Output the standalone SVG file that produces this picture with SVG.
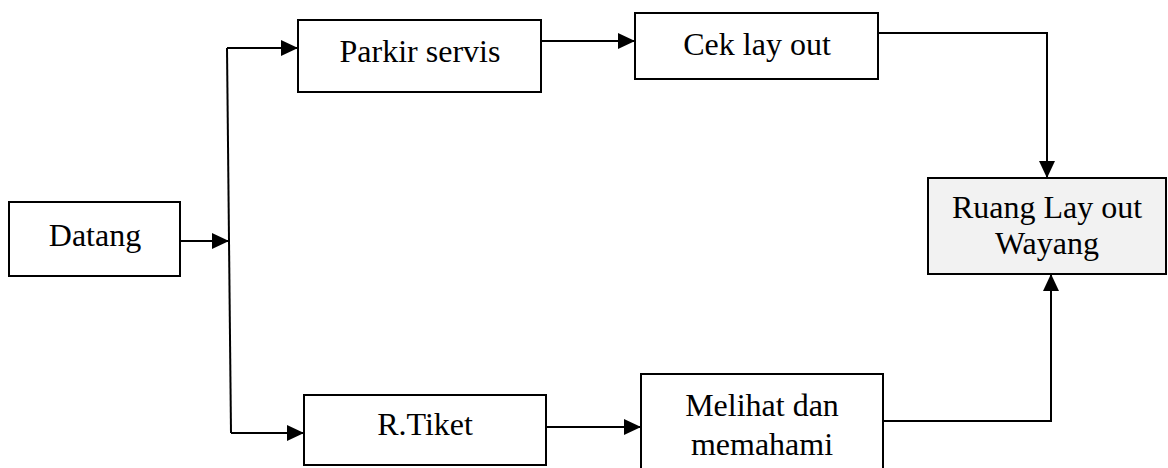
<svg xmlns="http://www.w3.org/2000/svg" width="1168" height="468" viewBox="0 0 1168 468">
  <style>
    .box { fill: #ffffff; stroke: #000000; stroke-width: 2; }
    .box.shaded { fill: #f2f2f2; }
    .label { font-family: "Liberation Serif", "Times New Roman", serif; font-size: 32px; fill: #000000; text-anchor: middle; }
    .link { fill: none; stroke: #000000; stroke-width: 2; marker-end: url(#arrow); }
    .plain { fill: none; stroke: #000000; stroke-width: 2; }
  </style>
  <defs>
    <marker id="arrow" markerUnits="userSpaceOnUse" markerWidth="17" markerHeight="16" refX="17" refY="8" orient="auto">
      <path d="M0,0 L17,8 L0,16 Z" fill="#000000"/>
    </marker>
  </defs>

  <rect width="1168" height="468" fill="#ffffff"/>

  <!-- connectors -->
  <g id="connectors">
    <path class="link" d="M180,241 L229,241"/>
    <path class="plain" d="M227,48 L231,433"/>
    <path class="link" d="M227,48 L298,48"/>
    <path class="link" d="M231,433 L304,433"/>
    <path class="link" d="M541,41 L635,41"/>
    <path class="link" d="M878,33 L1047,33 L1047,178"/>
    <path class="link" d="M546,427 L641,427"/>
    <path class="link" d="M883,421 L1051,421 L1051,274"/>
  </g>

  <!-- nodes -->
  <g id="datang">
    <rect class="box" x="9" y="202" width="171" height="74"/>
    <text class="label" x="95" y="246">Datang</text>
  </g>
  <g id="parkir-servis">
    <rect class="box" x="298" y="20" width="243" height="72"/>
    <text class="label" x="420" y="62">Parkir servis</text>
  </g>
  <g id="cek-lay-out">
    <rect class="box" x="635" y="13" width="243" height="66"/>
    <text class="label" x="757" y="55">Cek lay out</text>
  </g>
  <g id="ruang-lay-out-wayang">
    <rect class="box shaded" x="928" y="178" width="238" height="96"/>
    <text class="label" x="1047" y="218">Ruang Lay out</text>
    <text class="label" x="1047" y="254">Wayang</text>
  </g>
  <g id="r-tiket">
    <rect class="box" x="304" y="395" width="242" height="70"/>
    <text class="label" x="425" y="435">R.Tiket</text>
  </g>
  <g id="melihat-dan-memahami">
    <rect class="box" x="641" y="374" width="242" height="100"/>
    <text class="label" x="762" y="416">Melihat dan</text>
    <text class="label" x="762" y="455">memahami</text>
  </g>
</svg>
